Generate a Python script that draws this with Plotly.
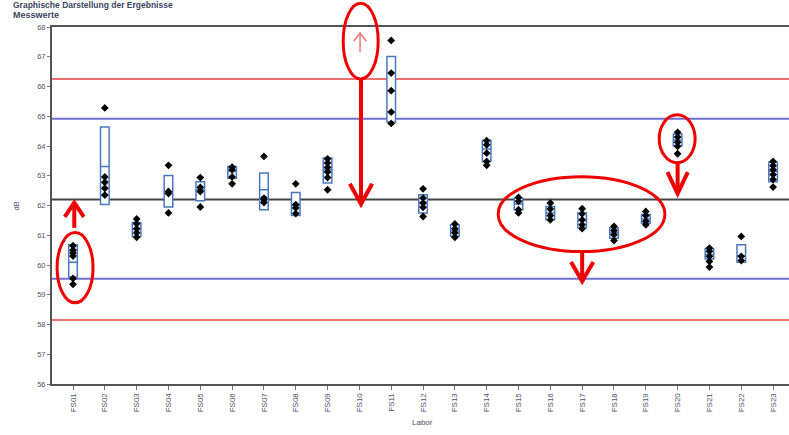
import plotly.graph_objects as go

# Laboratories on the x axis
labs = [f"FS{i:02d}" for i in range(1, 24)]

# Single measurements per laboratory (dB); FS10 reported nothing
messwerte = {
    "FS01": [60.65, 60.5, 60.4, 60.3, 59.55, 59.35],
    "FS02": [65.28, 62.96, 62.78, 62.58, 62.35],
    "FS03": [61.55, 61.39, 61.22, 61.08, 60.93],
    "FS04": [63.35, 62.47, 62.40, 61.75],
    "FS05": [62.94, 62.61, 62.47, 61.95],
    "FS06": [63.29, 63.20, 62.96, 62.73],
    "FS07": [63.65, 62.25, 62.20, 62.10],
    "FS08": [62.73, 62.03, 61.92, 61.73],
    "FS09": [63.57, 63.43, 63.28, 63.13, 62.94, 62.53],
    "FS11": [67.55, 66.45, 65.86, 65.14, 64.76],
    "FS12": [62.56, 62.25, 62.08, 61.94, 61.63],
    "FS13": [61.38, 61.22, 61.08, 60.93],
    "FS14": [64.18, 64.04, 63.76, 63.48, 63.35],
    "FS15": [62.27, 62.14, 61.86, 61.75],
    "FS16": [62.08, 61.88, 61.66, 61.52],
    "FS17": [61.89, 61.72, 61.52, 61.35, 61.22],
    "FS18": [61.30, 61.16, 61.02, 60.82],
    "FS19": [61.80, 61.66, 61.47, 61.35],
    "FS20": [64.46, 64.30, 64.13, 63.99, 63.74],
    "FS21": [60.57, 60.46, 60.29, 60.12, 59.93],
    "FS22": [60.96, 60.29, 60.15],
    "FS23": [63.48, 63.34, 63.20, 63.04, 62.87, 62.62],
}

# Box statistics per laboratory: (q1, median, q3)
box_stats = {
    "FS01": (59.60, 60.09, 60.68),
    "FS02": (62.03, 63.31, 64.64),
    "FS03": (60.96, 61.20, 61.43),
    "FS04": (61.95, 62.42, 63.01),
    "FS05": (62.16, 62.53, 62.80),
    "FS06": (62.92, 63.15, 63.31),
    "FS07": (61.86, 62.53, 63.09),
    "FS08": (61.66, 62.00, 62.44),
    "FS09": (62.76, 63.20, 63.60),
    "FS11": (64.81, 65.86, 67.01),
    "FS12": (61.75, 62.10, 62.36),
    "FS13": (60.97, 61.15, 61.35),
    "FS14": (63.48, 63.90, 64.19),
    "FS15": (61.86, 62.05, 62.25),
    "FS16": (61.52, 61.75, 61.97),
    "FS17": (61.25, 61.50, 61.75),
    "FS18": (60.90, 61.08, 61.25),
    "FS19": (61.40, 61.55, 61.70),
    "FS20": (64.00, 64.20, 64.40),
    "FS21": (60.20, 60.35, 60.55),
    "FS22": (60.09, 60.30, 60.68),
    "FS23": (62.80, 63.15, 63.45),
}

# Reference value and tolerance limits (dB)
ref_value = 62.2
inner_limits = [64.92, 59.54]
outer_limits = [66.25, 58.15]

y_min, y_max = 56, 68
y_ticks = list(range(56, 69))

pos = {lab: i for i, lab in enumerate(labs)}

fig = go.Figure()

# boxes
box_labs = list(box_stats.keys())
fig.add_trace(go.Box(
    x=[pos[l] for l in box_labs],
    q1=[box_stats[l][0] for l in box_labs],
    median=[box_stats[l][1] for l in box_labs],
    q3=[box_stats[l][2] for l in box_labs],
    lowerfence=[box_stats[l][0] for l in box_labs],
    upperfence=[box_stats[l][2] for l in box_labs],
    width=0.27,
    whiskerwidth=0,
    fillcolor="white",
    line=dict(color="#4a78c0", width=1.5),
    hoverinfo="skip",
    showlegend=False,
))

# single measurements
px, py = [], []
for lab, vals in messwerte.items():
    px += [pos[lab]] * len(vals)
    py += vals
fig.add_trace(go.Scatter(
    x=px, y=py, mode="markers",
    marker=dict(symbol="diamond", size=6, color="black"),
    showlegend=False,
))

shapes = []
for v, col in ([(ref_value, "#444444")] +
               [(v, "#7070d0") for v in inner_limits] +
               [(v, "#f07070") for v in outer_limits]):
    shapes.append(dict(type="line", xref="paper", x0=0, x1=1, yref="y", y0=v, y1=v,
                       line=dict(color=col, width=2), layer="below"))


def py_(v):
    # dB value to paper fraction (shapes allowed to leave the plot area)
    return (v - y_min) / (y_max - y_min)


RED = "#ee0000"

# highlight ellipses
for x0, x1, y0, y1 in [(-0.50, 0.63, 58.73, 61.09),
                       (8.49, 9.59, 66.25, 68.80),
                       (13.36, 18.60, 60.45, 62.97),
                       (18.42, 19.55, 63.44, 65.05)]:
    shapes.append(dict(type="circle", xref="x", yref="paper",
                       x0=x0, x1=x1, y0=py_(y0), y1=py_(y1),
                       line=dict(color=RED, width=3)))


def arrow(x, y_from, y_to, head_dx, head_dy, color=RED, width=4):
    d = 1 if y_to > y_from else -1
    s = [dict(type="line", xref="x", yref="paper", x0=x, x1=x,
              y0=py_(y_from), y1=py_(y_to), line=dict(color=color, width=width)),
         dict(type="path", xref="x", yref="paper",
              path=(f"M {x - head_dx},{py_(y_to - d * head_dy)} L {x},{py_(y_to)} "
                    f"L {x + head_dx},{py_(y_to - d * head_dy)}"),
              line=dict(color=color, width=width))]
    return s


shapes += arrow(0.04, 61.25, 62.10, 0.30, 0.48)
shapes += arrow(9.05, 66.25, 62.05, 0.35, 0.68)
shapes += arrow(9.02, 67.15, 67.80, 0.20, 0.28, color="#f07878", width=1.5)
shapes += arrow(16.0, 60.45, 59.45, 0.35, 0.65)
shapes += arrow(19.0, 63.44, 62.40, 0.32, 0.72)

font_family = "Liberation Sans, Arial, sans-serif"
text_col = "#4a5368"

fig.update_layout(
    width=789, height=435,
    margin=dict(l=52, r=0, t=27, b=51),
    paper_bgcolor="white", plot_bgcolor="white",
    shapes=shapes,
    font=dict(family=font_family, size=8, color=text_col),
    xaxis=dict(
        range=[-0.66, 22.5],
        tickvals=list(range(len(labs))), ticktext=labs,
        tickangle=-90, tickfont=dict(size=8, color=text_col),
        ticks="outside", ticklen=4, tickcolor="#777777",
        showgrid=False, zeroline=False,
        showline=True, linecolor="#555555", linewidth=2, mirror=True,
    ),
    yaxis=dict(
        range=[y_min, y_max], tickvals=y_ticks,
        tickfont=dict(size=7.5, color=text_col),
        ticks="outside", ticklen=3, tickcolor="#777777",
        showgrid=False, zeroline=False,
        showline=True, linecolor="#555555", linewidth=2, mirror=False,
    ),
    annotations=[
        dict(text="<b>Graphische Darstellung der Ergebnisse</b>", xref="paper", yref="paper",
             x=-0.055, y=1.0625, xanchor="left", yanchor="middle", showarrow=False,
             font=dict(size=8.5, color="#3c4660")),
        dict(text="<b>Messwerte</b>", xref="paper", yref="paper",
             x=-0.055, y=1.035, xanchor="left", yanchor="middle", showarrow=False,
             font=dict(size=9, color="#3c4660")),
        dict(text="dB", xref="paper", yref="paper", x=-0.0475, y=0.5, textangle=-90,
             xanchor="center", yanchor="middle", showarrow=False, font=dict(size=7.5)),
        dict(text="Labor", xref="paper", yref="paper", x=0.503, y=-0.108,
             xanchor="center", yanchor="middle", showarrow=False, font=dict(size=8)),
    ],
)

fig.write_html("out.html")
